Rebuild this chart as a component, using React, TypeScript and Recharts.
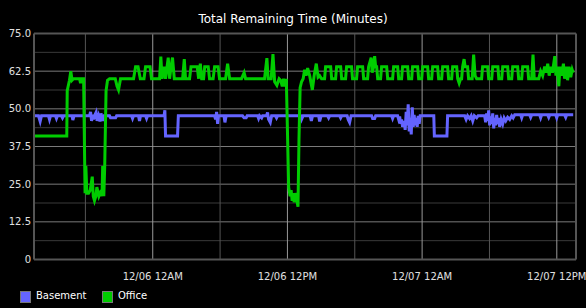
import { LineChart, Line, XAxis, YAxis, CartesianGrid } from "recharts";

const title = "Total Remaining Time (Minutes)";

// hours relative to 12/06 12AM
const hourDomain = [-10.58, 37.71];
const hourTicks = [-6, 0, 6, 12, 18, 24, 30, 36];
const majorHours = [0, 12, 24, 36];
const minorHours = [-6, 6, 18, 30];
const hourLabels: Record<number, string> = {
  0: "12/06 12AM",
  12: "12/06 12PM",
  24: "12/07 12AM",
  36: "12/07 12PM",
};

const minuteTicks = [0, 12.5, 25, 37.5, 50, 62.5, 75];
const minorMinutes = [6.25, 18.75, 31.25, 43.75, 56.25, 68.75];

// [hour, minutes]
const officeReadings: [number, number][] = [
  [-10.58, 41], [-7.66, 41], [-7.62, 56], [-7.42, 59.5], [-7.3, 62.5], [-7.19, 59.5],
  [-7.06, 60], [-6.52, 60], [-6.43, 58.5], [-6.34, 60], [-6.16, 60], [-6.03, 22],
  [-5.96, 31], [-5.87, 22], [-5.72, 22], [-5.57, 23], [-5.39, 27.5], [-5.3, 21],
  [-5.19, 19.5], [-5.07, 21], [-4.98, 24], [-4.8, 21], [-4.59, 23], [-4.52, 21],
  [-4.46, 31], [-4.36, 21], [-4.28, 31], [-4.16, 56], [-4.03, 59.5], [-3.85, 60],
  [-3.34, 60], [-3.18, 57.5], [-3.05, 56.3], [-2.87, 60], [-1.71, 60], [-1.53, 64],
  [-1.31, 64], [-1.11, 60], [-0.78, 60], [-0.64, 64], [-0.24, 64], [-0.11, 60],
  [0.61, 60], [0.72, 67.3], [0.83, 60], [1.01, 64], [1.14, 60], [1.38, 67],
  [1.5, 60], [1.63, 64], [1.76, 67], [1.92, 60], [2.66, 60], [2.81, 66.5],
  [2.92, 60], [3.28, 60], [3.41, 64], [3.96, 64], [4.09, 60], [4.24, 65],
  [4.36, 60], [4.53, 60], [4.63, 64], [4.94, 64], [5.06, 60], [5.38, 60],
  [5.51, 64], [5.82, 64], [5.95, 60], [6.49, 60], [6.67, 65], [6.85, 60],
  [7.91, 60], [8.14, 62], [8.27, 60], [9.96, 60], [10.17, 66.8], [10.28, 60],
  [10.55, 60], [10.71, 68.2], [10.86, 59], [11.06, 57.8], [11.26, 60], [11.39, 59.5],
  [11.54, 57.5], [11.66, 60], [11.78, 57.4], [11.9, 60], [12.11, 24], [12.24, 21],
  [12.33, 23], [12.42, 19.5], [12.51, 22], [12.6, 19], [12.69, 22], [12.82, 20],
  [12.94, 17.5], [13.03, 40], [13.13, 57], [13.26, 59], [13.4, 60], [13.53, 63],
  [13.66, 61], [13.8, 63.5], [13.98, 61], [14.22, 56.3], [14.38, 61], [14.57, 65],
  [14.73, 60.5], [14.87, 61], [15.04, 60], [15.31, 60], [15.4, 64], [15.85, 64],
  [15.94, 60], [16.29, 60], [16.38, 64], [16.74, 64], [16.83, 60], [17.18, 60],
  [17.27, 64], [17.71, 64], [17.8, 60], [18.16, 60], [18.25, 64], [18.7, 64],
  [18.79, 60], [19.14, 60], [19.23, 64], [19.46, 67], [19.55, 62], [19.68, 64],
  [19.77, 67.5], [19.86, 64], [19.95, 64], [20.04, 60], [20.3, 60], [20.39, 64],
  [20.84, 64], [20.93, 60], [21.37, 60], [21.46, 64], [21.82, 64], [21.91, 60],
  [22.17, 60], [22.26, 64], [22.71, 64], [22.8, 60], [23.07, 60], [23.15, 64],
  [23.6, 64], [23.69, 60], [23.96, 60], [24.05, 64], [24.49, 64], [24.58, 60],
  [24.85, 60], [24.94, 64], [25.38, 64], [25.47, 60], [25.74, 60], [25.83, 64],
  [26.27, 64], [26.36, 60], [26.63, 60], [26.72, 64], [27.08, 64], [27.17, 60],
  [27.3, 58.5], [27.43, 60], [27.52, 60], [27.61, 64], [27.74, 66.5], [27.83, 64],
  [28.05, 64], [28.14, 60], [28.46, 60], [28.59, 68], [28.72, 61], [28.86, 60],
  [29.3, 60], [29.39, 64], [29.84, 64], [29.93, 60], [30.2, 60], [30.29, 64],
  [30.75, 64], [30.83, 60], [31.09, 60], [31.18, 64], [31.62, 64], [31.71, 60],
  [31.98, 60], [32.07, 64], [32.51, 64], [32.6, 60], [32.87, 60], [32.96, 64],
  [33.4, 64], [33.49, 60], [33.76, 60], [33.88, 68], [33.99, 60], [34.39, 60],
  [34.56, 62.5], [34.74, 61], [34.92, 64], [35.05, 62], [35.19, 65], [35.32, 61],
  [35.45, 64], [35.61, 62], [35.82, 67.5], [35.92, 61], [36.01, 64], [36.18, 57.5],
  [36.28, 64], [36.42, 61], [36.59, 65], [36.69, 60], [36.83, 64], [36.96, 59.5],
  [37.1, 64], [37.24, 60.5], [37.37, 63], [37.46, 62],
];

const basementReadings: [number, number][] = [
  [-10.58, 47.7], [-10.18, 47.7], [-10.03, 45.8], [-9.91, 47.7], [-9.29, 47.7], [-9.2, 46.5],
  [-9.11, 47.7], [-8.67, 47.7], [-8.58, 46.8], [-8.49, 47.7], [-8.13, 47.7], [-8.04, 47],
  [-7.95, 47.7], [-7.19, 47.7], [-7.12, 46.3], [-7.01, 47.7], [-5.63, 47.7], [-5.54, 49],
  [-5.45, 46], [-5.36, 48], [-5.28, 46.5], [-5.19, 47.7], [-5.05, 48.8], [-4.96, 46],
  [-4.83, 47.7], [-4.7, 45.8], [-4.61, 48.5], [-4.47, 46], [-4.33, 47.7], [-3.85, 47.7],
  [-3.76, 47], [-3.31, 47], [-3.22, 47.7], [-1.89, 47.7], [-1.8, 46.8], [-1.71, 47.7],
  [-1.27, 47.7], [-1.18, 46], [-1.09, 47.7], [-0.64, 47.7], [-0.55, 46.8], [-0.46, 47.7],
  [1.01, 47.7], [1.08, 49.5], [1.14, 41], [2.21, 41], [2.28, 47.7], [5.51, 47.7],
  [5.6, 46.5], [5.69, 49], [5.78, 45], [5.86, 47.7], [6.35, 47.7], [6.43, 45.5],
  [6.54, 47.7], [8.0, 47.7], [8.14, 47], [8.32, 47], [8.41, 47.7], [9.34, 47.7],
  [9.43, 46.8], [9.52, 47.7], [9.7, 47], [9.79, 47.7], [10.14, 47.7], [10.23, 48.8],
  [10.32, 46.5], [10.47, 45.5], [10.59, 47.7], [10.94, 47.7], [11.03, 47], [11.12, 47.7],
  [13.17, 47.7], [13.26, 46.5], [13.4, 47.7], [14.02, 47.7], [14.13, 46], [14.24, 47.7],
  [14.78, 47.7], [14.87, 45.8], [15.0, 47.7], [15.58, 47.7], [15.67, 47], [15.76, 47.7],
  [16.65, 47.7], [16.74, 47], [16.83, 47.7], [17.32, 47.7], [17.41, 46.5], [17.54, 45.5],
  [17.67, 47.7], [19.5, 47.7], [19.59, 46.8], [19.77, 46.8], [19.86, 47.7], [21.28, 47.7],
  [21.37, 46.8], [21.46, 47.7], [21.82, 47.7], [21.91, 46.5], [22.0, 47.5], [22.09, 45],
  [22.17, 46.5], [22.26, 44], [22.4, 46], [22.49, 43], [22.58, 49], [22.67, 44.5],
  [22.76, 51.5], [22.85, 42.5], [22.94, 47], [23.03, 41.5], [23.12, 50.5], [23.21, 44],
  [23.29, 48], [23.39, 44.5], [23.48, 47], [23.56, 44], [23.65, 47.7], [23.74, 45],
  [23.83, 47.7], [25.04, 47.7], [25.09, 41], [26.21, 41], [26.27, 47.7], [27.79, 47.7],
  [27.92, 46.5], [28.05, 47.7], [28.23, 46.8], [28.37, 47.7], [28.51, 46], [28.65, 47.7],
  [28.86, 47], [28.99, 47.7], [29.57, 47.7], [29.66, 45.5], [29.75, 48.5], [29.84, 46],
  [29.93, 49.5], [30.02, 44.5], [30.11, 47.5], [30.2, 45], [30.29, 48.5], [30.38, 43.5],
  [30.46, 47], [30.55, 44.5], [30.64, 48], [30.73, 45], [30.82, 47], [30.91, 44],
  [31.04, 46.5], [31.18, 45], [31.31, 47], [31.45, 46], [31.62, 47.2], [31.8, 46.5],
  [31.98, 47.7], [32.11, 47], [32.25, 48], [32.78, 48], [32.87, 47], [32.96, 48],
  [33.58, 48], [33.67, 47.2], [33.76, 48], [34.47, 48], [34.56, 47], [34.65, 48],
  [35.19, 48], [35.28, 47.2], [35.37, 48], [35.9, 48], [35.99, 47], [36.08, 48],
  [36.69, 48], [36.79, 47.2], [36.87, 48], [37.46, 48],
];

const office = officeReadings.map(([hour, minutes]) => ({ hour, minutes }));
const basement = basementReadings.map(([hour, minutes]) => ({ hour, minutes }));

const BLUE = "#6464ff";
const GREEN = "#00cc00";
const font = "'DejaVu Sans', sans-serif";

function Swatch({ color, left }: { color: string; left: number }) {
  return (
    <div
      style={{
        position: "absolute",
        left,
        top: 291,
        width: 9,
        height: 10,
        background: color,
        border: "1px solid #777",
      }}
    />
  );
}

export default function App() {
  return (
    <div
      style={{
        position: "absolute",
        left: 0,
        top: 0,
        width: 586,
        height: 308,
        background: "#000",
        fontFamily: font,
        overflow: "hidden",
      }}
    >
      <div
        style={{
          position: "absolute",
          top: 12,
          left: 0,
          width: 586,
          textAlign: "center",
          color: "#fff",
          fontSize: 12,
        }}
      >
        {title}
      </div>
      <LineChart width={586} height={308} margin={{ top: 33.5, right: 10, left: 0, bottom: 18.5 }}>
        <CartesianGrid horizontalValues={minorMinutes} vertical={false} stroke="#3a3a3a" />
        <CartesianGrid horizontalValues={minuteTicks} vertical={false} stroke="#7a7a7a" />
        <CartesianGrid verticalValues={minorHours} horizontal={false} stroke="#555" />
        <CartesianGrid verticalValues={majorHours} horizontal={false} stroke="#999" />
        <CartesianGrid
          verticalValues={[hourDomain[1]]}
          horizontalValues={[75]}
          stroke="#555"
          strokeWidth={2}
        />
        <XAxis
          type="number"
          dataKey="hour"
          domain={hourDomain}
          ticks={hourTicks}
          allowDataOverflow
          tickFormatter={(h: number) => hourLabels[h] ?? ""}
          axisLine={{ stroke: "#555", strokeWidth: 2 }}
          tickLine={false}
          tickSize={0}
          tickMargin={13}
          height={30}
          tick={{ fill: "#e0e0e0", fontSize: 10, fontFamily: font }}
        />
        <YAxis
          type="number"
          domain={[0, 75]}
          ticks={minuteTicks}
          tickFormatter={(v: number) => (v === 0 ? "0" : v.toFixed(1))}
          axisLine={{ stroke: "#555", strokeWidth: 2 }}
          tickLine={false}
          tickSize={0}
          tickMargin={3}
          width={34}
          tick={{ fill: "#e0e0e0", fontSize: 10, fontFamily: font }}
        />
        <Line
          data={basement}
          dataKey="minutes"
          type="linear"
          stroke={BLUE}
          strokeWidth={3}
          dot={false}
          isAnimationActive={false}
        />
        <Line
          data={office}
          dataKey="minutes"
          type="linear"
          stroke={GREEN}
          strokeWidth={3}
          dot={false}
          isAnimationActive={false}
        />
      </LineChart>
      <Swatch color={BLUE} left={20} />
      <div style={{ position: "absolute", left: 36, top: 290, color: "#fff", fontSize: 10 }}>Basement</div>
      <Swatch color={GREEN} left={102} />
      <div style={{ position: "absolute", left: 118, top: 290, color: "#fff", fontSize: 10 }}>Office</div>
    </div>
  );
}
